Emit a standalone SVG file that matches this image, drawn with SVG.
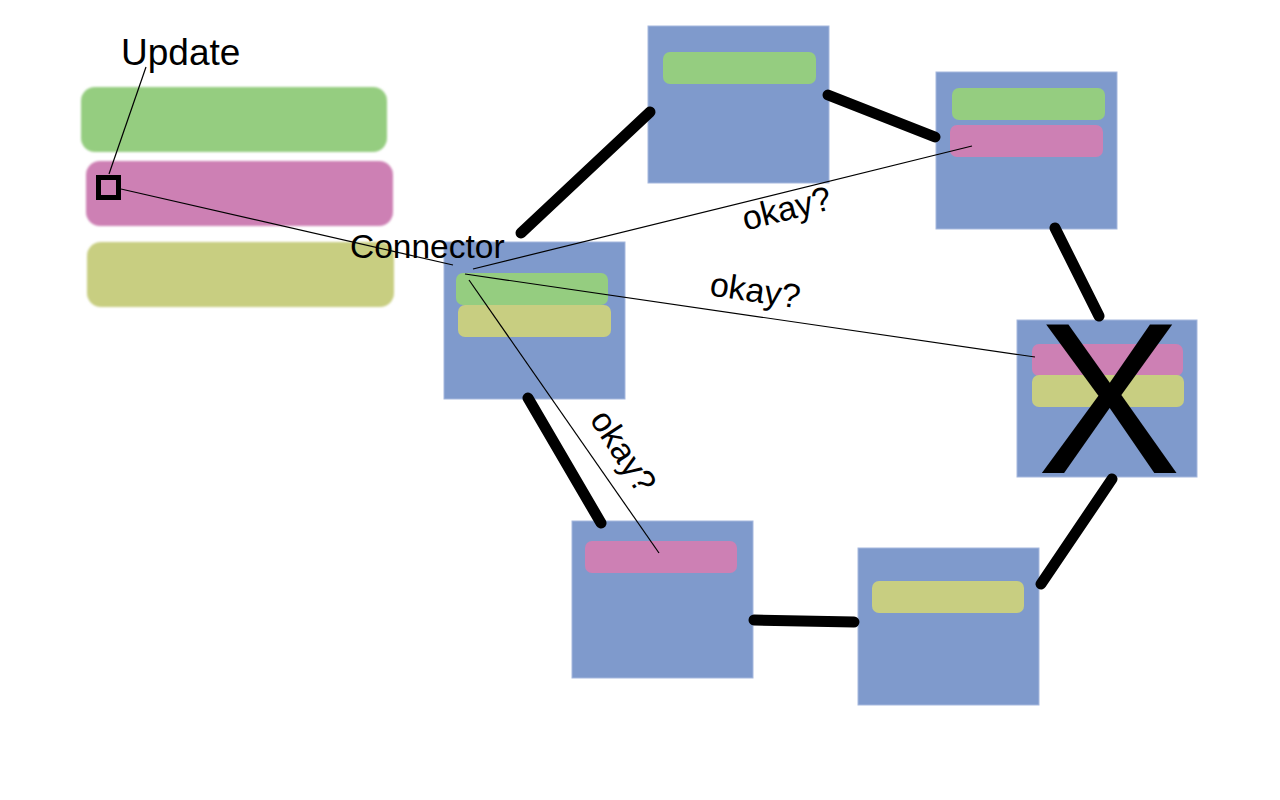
<svg xmlns="http://www.w3.org/2000/svg" width="1280" height="800" viewBox="0 0 1280 800">
<defs>
<style>
.box{fill:#7f9acc;stroke:#a6b8de;stroke-width:1}
.g{fill:#95cd80}
.p{fill:#cd80b4}
.o{fill:#c8ce81}
.thick{stroke:#000;stroke-width:11;stroke-linecap:round;fill:none}
.thin{stroke:#000;stroke-width:1.2;fill:none}
.t{font-family:"Liberation Sans",Arial,sans-serif;fill:#000}
</style>
<filter id="soft" x="-5%" y="-5%" width="110%" height="110%"><feGaussianBlur stdDeviation="1"/></filter>
</defs>
<rect width="1280" height="800" fill="#fff"/>

<g id="legend">
<g filter="url(#soft)">
<rect class="g" x="81" y="87" width="306" height="65" rx="14"/>
<rect class="p" x="86" y="161" width="307" height="65" rx="14"/>
<rect class="o" x="87" y="242" width="307" height="65" rx="14"/>
</g>
<rect x="98.5" y="177.5" width="20" height="20" fill="none" stroke="#000" stroke-width="5"/>
<text class="t" x="121" y="65" font-size="37">Update</text>
</g>

<g id="node-center">
<rect class="box" x="444" y="242" width="181" height="157"/>
<rect class="g" x="456" y="273" width="152" height="32" rx="7"/>
<rect class="o" x="458" y="305" width="153" height="32" rx="7"/>
</g>
<g id="node-top">
<rect class="box" x="648" y="26" width="181" height="157"/>
<rect class="g" x="663" y="52" width="153" height="32" rx="7"/>
</g>
<g id="node-topright">
<rect class="box" x="936" y="72" width="181" height="157"/>
<rect class="g" x="952" y="88" width="153" height="32" rx="7"/>
<rect class="p" x="950" y="125" width="153" height="32" rx="7"/>
</g>
<g id="node-right">
<rect class="box" x="1017" y="320" width="180" height="157"/>
<rect class="p" x="1032" y="344" width="151" height="32" rx="7"/>
<rect class="o" x="1032" y="375" width="152" height="32" rx="7"/>
<text class="t" x="1109" y="473" font-size="216" text-anchor="middle">X</text>
</g>
<g id="node-bottomright">
<rect class="box" x="858" y="548" width="181" height="157"/>
<rect class="o" x="872" y="581" width="152" height="32" rx="7"/>
</g>
<g id="node-bottom">
<rect class="box" x="572" y="521" width="181" height="157"/>
<rect class="p" x="585" y="541" width="152" height="32" rx="7"/>
</g>

<g id="connectors">
<line class="thick" x1="521" y1="233" x2="650" y2="112"/>
<line class="thick" x1="828" y1="95" x2="935" y2="137"/>
<line class="thick" x1="1055" y1="228" x2="1099" y2="316"/>
<line class="thick" x1="1112" y1="479" x2="1041" y2="584"/>
<line class="thick" x1="854" y1="622" x2="754" y2="620"/>
<line class="thick" x1="601" y1="523" x2="528" y2="398"/>
</g>

<g id="messages">
<line class="thin" x1="121" y1="189" x2="453" y2="265"/>
<line class="thin" x1="146" y1="67" x2="109" y2="174"/>
<line class="thin" x1="473" y1="269" x2="972" y2="146"/>
<line class="thin" x1="465" y1="274" x2="1035" y2="357"/>
<line class="thin" x1="469" y1="280" x2="659" y2="553"/>
<text class="t" x="350" y="258" font-size="33.5">Connector</text>
<text class="t" font-size="34" text-anchor="middle" transform="translate(787,210) rotate(-14)" y="10">okay?</text>
<text class="t" font-size="34" text-anchor="middle" transform="translate(755,292) rotate(8.5)" y="10">okay?</text>
<text class="t" font-size="34" text-anchor="middle" transform="translate(622,452) rotate(57)" y="10">okay?</text>
</g>
</svg>
